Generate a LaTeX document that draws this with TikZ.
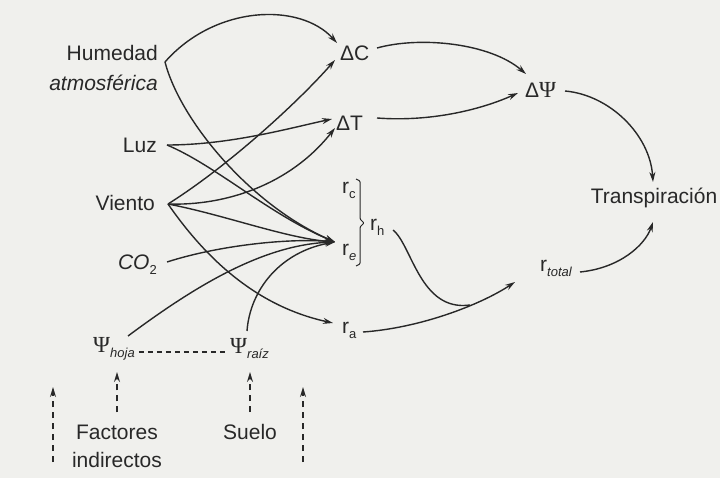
\documentclass[tikz,border=0pt]{standalone}
\usepackage{fontspec}
\setmainfont{Liberation Sans}
\newfontfamily\gserif{Liberation Serif}
\usetikzlibrary{arrows.meta,calc}
\definecolor{ink}{RGB}{40,40,40}
\definecolor{paper}{RGB}{240,240,237}
\newcommand\sbs[1]{\raisebox{-5pt}{\fontsize{13}{13}\selectfont #1}}
\newcommand\Psy{{\gserif\fontsize{23}{28}\selectfont Ψ}}
\begin{document}
\begin{tikzpicture}[x=1pt,y=-1pt,
  lbl/.style={inner sep=3pt, text=ink, font=\fontsize{21}{28}\selectfont},
  conn/.style={draw=ink, line width=1.4pt, -{Stealth[length=10pt,width=6pt]}},
  plain/.style={draw=ink, line width=1.4pt},
  dasharr/.style={draw=ink, line width=1.4pt, dash pattern=on 6pt off 5pt, -{Stealth[length=10pt,width=6pt]}},
]
\fill[paper] (0,0) rectangle (720,478);
\useasboundingbox (0,0) rectangle (720,478);

% left factors
\node[lbl, anchor=east] (hum) at (161,53) {Humedad};
\node[lbl, anchor=east, font=\fontsize{21}{28}\selectfont\itshape] (atm) at (161,83) {atmosférica};
\node[lbl, anchor=east] (luz) at (160,145) {Luz};
\node[lbl, anchor=east] (vie) at (158,203) {Viento};
\node[lbl, anchor=east] (co2) at (160,265) {\textit{CO}\sbs{2}};
\node[lbl, anchor=west] (ph) at (90,349) {\Psy\sbs{\itshape hoja}};
\node[lbl, anchor=west] (pr) at (227,349) {\Psy\sbs{\itshape raíz}};
\node[lbl, align=center] (fi) at (117,446) {Factores\\indirectos};
\node[lbl] (su) at (250,432) {Suelo};

% middle
\node[lbl, anchor=west] (dc) at (337,53) {ΔC};
\node[lbl, anchor=west] (dt) at (333,123) {ΔT};
\node[lbl, anchor=west] (rc) at (339,190) {r\sbs{c}};
\node[lbl, anchor=west] (re) at (339,252) {r\sbs{\itshape e}};
\node[lbl, anchor=west] (rh) at (367,227) {r\sbs{h}};
\node[lbl, anchor=west] (ra) at (339,330) {r\sbs{a}};

% right
\node[lbl, anchor=west] (dp) at (522,90) {Δ\Psy};
\node[lbl] (tr) at (654,198) {Transpiración};
\node[lbl, anchor=west] (rt) at (537,268) {r\sbs{\itshape total}};

\coordinate (conv) at ($(re.west)+(-4,-10)$);
\coordinate (mrg) at (470,305);
\coordinate (la) at (53,462); \coordinate (lb) at (53,387);
\coordinate (rA) at (303,462); \coordinate (rB) at (303,387);

% bracket
\draw[plain, line width=1pt, rounded corners=1pt] (356,179) -- (360,181) -- (360,219) -- (364,223) -- (360,227) -- (360,264) -- (356,266);

% Humedad
\draw[conn] ($(hum.east)+(4,9)$) .. controls (215,5) and (300,2) .. ($(dc.west)+(0,-10)$);
\draw[conn] ($(hum.east)+(4,9)$) .. controls (180,120) and (250,205) .. (conv);
% Luz
\draw[conn] ($(luz.east)+(7,0)$) .. controls (230,145) and (290,128) .. ($(dt.west)+(-1,-4)$);
\draw[conn] ($(luz.east)+(7,0)$) .. controls (215,165) and (270,215) .. (conv);
% Viento
\draw[conn] ($(vie.east)+(10,1)$) .. controls (230,165) and (300,100) .. ($(dc.west)+(-2,7)$);
\draw[conn] ($(vie.east)+(10,1)$) .. controls (225,206) and (290,185) .. ($(dt.west)+(2,5)$);
\draw[conn] ($(vie.east)+(10,1)$) .. controls (225,215) and (285,238) .. (conv);
\draw[conn] ($(vie.east)+(10,1)$) .. controls (200,250) and (250,305) .. ($(ra.west)+(-6,-7)$);
% CO2
\draw[conn] ($(co2.east)+(7,-3)$) .. controls (220,245) and (290,238) .. (conv);
% Psi
\draw[conn] ($(ph.west)+(38,-13)$) .. controls (190,290) and (260,245) .. (conv);
\draw[conn] ($(pr.west)+(20,-18)$) .. controls (250,290) and (280,252) .. (conv);
\draw[plain, dash pattern=on 5pt off 4pt] ($(ph.east)+(1,3)$) -- ($(pr.west)+(-1,3)$);

% right side
\draw[conn] ($(dc.west)+(40,-5)$) .. controls (420,36) and (490,43) .. ($(dp.west)+(4,-16)$);
\draw[conn] ($(dt.west)+(44,-5)$) .. controls (430,122) and (480,110) .. ($(dp.west)+(-4,3)$);
\draw[conn] ($(dp.west)+(43,1)$) .. controls (610,95) and (650,135) .. ($(tr.center)+(-1,-16)$);
\draw[conn] ($(rt.west)+(43,4)$) .. controls (620,268) and (645,245) .. ($(tr.center)+(-1,24)$);
\draw[conn] ($(ra.west)+(24,2)$) .. controls (420,328) and (480,305) .. ($(rt.west)+(-22,14)$);
\draw[plain] ($(rh.west)+(26,3)$) .. controls (412,245) and (420,312) .. (mrg);

% dashed inputs
\draw[dasharr] ($(fi.north)+(0,-9)$) -- ($(ph.west)+(27,23)$);
\draw[dasharr] ($(su.north)+(0,-9)$) -- ($(pr.west)+(23,23)$);
\draw[dasharr] (la) -- (lb);
\draw[dasharr] (rA) -- (rB);
\end{tikzpicture}
\end{document}
